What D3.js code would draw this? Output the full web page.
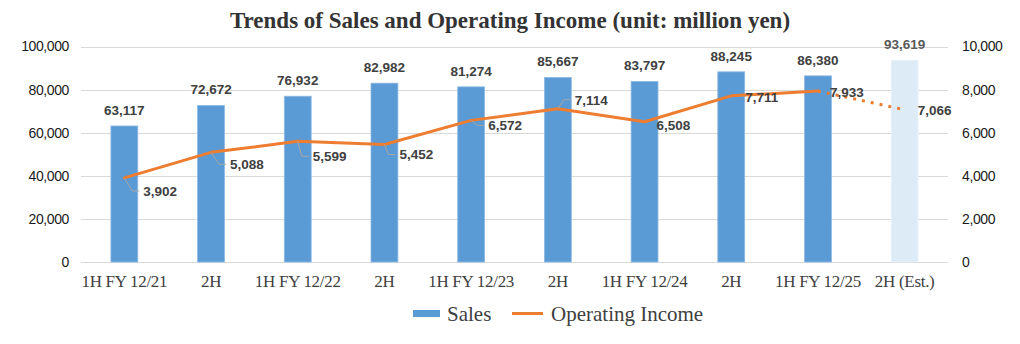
<!DOCTYPE html>
<html>
<head>
<meta charset="utf-8">
<script src="https://cdn.jsdelivr.net/npm/d3@7"></script>
<style>
  html, body { margin: 0; padding: 0; background: #fff; }
  svg { display: block; }
</style>
</head>
<body>
<svg id="chart" width="1020" height="344"></svg>
<script>
// ---- Data ----
const categories = ["1H FY 12/21", "2H", "1H FY 12/22", "2H", "1H FY 12/23", "2H", "1H FY 12/24", "2H", "1H FY 12/25", "2H (Est.)"];
const sales = [63117, 72672, 76932, 82982, 81274, 85667, 83797, 88245, 86380, 93619];
const operatingIncome = [3902, 5088, 5599, 5452, 6572, 7114, 6508, 7711, 7933, 7066];
const estimated = [false, false, false, false, false, false, false, false, false, true];
const leftTicks = [0, 20000, 40000, 60000, 80000, 100000];
const rightTicks = [0, 2000, 4000, 6000, 8000, 10000];
const titleText = "Trends of Sales and Operating Income (unit: million yen)";
const seriesNames = ["Sales", "Operating Income"];

// ---- Layout ----
const svg = d3.select("#chart");
const plot = { left: 81, right: 948, top: 46.5, bottom: 262 };
const blue = "#5B9BD5", lightBlue = "#DDEBF7", orange = "#ED7D31", grid = "#D9D9D9";
const fmt = d3.format(",");
// income label offsets (label left edge dx, label center dy) relative to point
const incLabelPos = [[19, 13], [19, 12], [15, 15], [15, 10], [17, 5], [17, -9], [12, 3], [14, 1], [12, 1], [13, 0]];
const hasLeader = [true, true, true, true, true, true, false, false, false, false];

const idx = d3.range(categories.length);
const x = d3.scaleBand().domain(idx).range([plot.left, plot.right]).paddingInner(0).paddingOuter(0);
const yL = d3.scaleLinear().domain([0, 100000]).range([plot.bottom, plot.top]);
const yR = d3.scaleLinear().domain([0, 10000]).range([plot.bottom, plot.top]);
const barW = x.bandwidth() * 0.31;
const cx = i => x(i) + x.bandwidth() / 2;

// Title
svg.append("text")
  .attr("x", 510).attr("y", 28)
  .attr("text-anchor", "middle")
  .attr("font-family", "'Liberation Serif', 'Times New Roman', serif")
  .attr("font-weight", "bold").attr("font-size", 23)
  .attr("fill", "#333333")
  .text(titleText);

// Gridlines
svg.append("g").selectAll("line").data(leftTicks).join("line")
  .attr("x1", plot.left).attr("x2", plot.right)
  .attr("y1", d => Math.round(yL(d)) + 0.5).attr("y2", d => Math.round(yL(d)) + 0.5)
  .attr("stroke", grid).attr("stroke-width", 1);

// Left axis
const axL = svg.append("g").attr("transform", `translate(${plot.left},0)`)
  .call(d3.axisLeft(yL).tickValues(leftTicks).tickFormat(fmt).tickSize(0).tickPadding(12));
axL.select(".domain").remove();
axL.selectAll("text").attr("font-family", "'Liberation Sans', Arial, sans-serif")
  .attr("font-size", 14).attr("fill", "#1a1a1a").attr("letter-spacing", "-0.4");

// Right axis
const axR = svg.append("g").attr("transform", `translate(${plot.right},0)`)
  .call(d3.axisRight(yR).tickValues(rightTicks).tickFormat(fmt).tickSize(0).tickPadding(14));
axR.select(".domain").remove();
axR.selectAll("text").attr("font-family", "'Liberation Sans', Arial, sans-serif")
  .attr("font-size", 14).attr("fill", "#1a1a1a").attr("letter-spacing", "-0.4");

// X axis labels
const axX = svg.append("g").attr("transform", `translate(0,${plot.bottom})`)
  .call(d3.axisBottom(x).tickFormat(i => categories[i]).tickSize(0).tickPadding(11));
axX.select(".domain").remove();
axX.selectAll("text").attr("font-family", "'Liberation Serif', 'Times New Roman', serif")
  .attr("font-size", 17).attr("fill", "#404040").attr("dy", "0.8em").attr("letter-spacing", "-0.3");

// Bars
svg.append("g").selectAll("rect").data(idx).join("rect")
  .attr("x", i => cx(i) - barW / 2)
  .attr("width", barW)
  .attr("y", i => yL(sales[i]))
  .attr("height", i => yL(0) - yL(sales[i]))
  .attr("fill", i => estimated[i] ? lightBlue : blue)
  .attr("stroke", i => estimated[i] ? "#EAF2FA" : "#8DB9E3")
  .attr("stroke-width", 0.8);

// Sales labels
svg.append("g").selectAll("text").data(idx).join("text")
  .attr("x", i => cx(i))
  .attr("y", i => yL(sales[i]) - 11)
  .attr("text-anchor", "middle")
  .attr("font-family", "'Liberation Sans', Arial, sans-serif")
  .attr("font-size", 13.5).attr("font-weight", "bold")
  .attr("fill", i => estimated[i] ? "#595959" : "#404040")
  .text(i => fmt(sales[i]));

// Income line (solid for actual, dotted for estimate)
const line = d3.line().x(i => cx(i)).y(i => yR(operatingIncome[i]));
const actualIdx = idx.filter(i => !estimated[i]);
svg.append("path").datum(actualIdx)
  .attr("d", line).attr("fill", "none")
  .attr("stroke", orange).attr("stroke-width", 3).attr("stroke-linejoin", "round").attr("stroke-linecap", "round");
const lastActual = actualIdx[actualIdx.length - 1];
const estIdx = [lastActual].concat(idx.filter(i => estimated[i]));
svg.append("path").datum(estIdx)
  .attr("d", line).attr("fill", "none")
  .attr("stroke", orange).attr("stroke-width", 3).attr("stroke-dasharray", "3,6");

// Income leader lines
svg.append("g").selectAll("polyline").data(idx.filter(i => hasLeader[i])).join("polyline")
  .attr("points", i => {
    const px = cx(i), py = yR(operatingIncome[i]);
    const lx = px + incLabelPos[i][0], ly = py + incLabelPos[i][1];
    return `${px},${py} ${lx - 11},${ly} ${lx - 4},${ly}`;
  })
  .attr("fill", "none").attr("stroke", "#A6A6A6").attr("stroke-width", 1);

// Income labels
svg.append("g").selectAll("text").data(idx).join("text")
  .attr("x", i => cx(i) + incLabelPos[i][0])
  .attr("y", i => yR(operatingIncome[i]) + incLabelPos[i][1])
  .attr("dy", "0.36em")
  .attr("font-family", "'Liberation Sans', Arial, sans-serif")
  .attr("font-size", 13.5).attr("font-weight", "bold")
  .attr("fill", "#404040")
  .text(i => fmt(operatingIncome[i]));

// Legend
const lg = svg.append("g");
lg.append("rect").attr("x", 413).attr("y", 310).attr("width", 27).attr("height", 7).attr("fill", blue);
lg.append("text").attr("x", 447).attr("y", 321)
  .attr("font-family", "'Liberation Serif', 'Times New Roman', serif").attr("font-size", 21).attr("fill", "#404040")
  .text(seriesNames[0]);
lg.append("line").attr("x1", 512).attr("x2", 543).attr("y1", 313.5).attr("y2", 313.5)
  .attr("stroke", orange).attr("stroke-width", 3);
lg.append("text").attr("x", 551).attr("y", 321)
  .attr("font-family", "'Liberation Serif', 'Times New Roman', serif").attr("font-size", 21).attr("fill", "#404040")
  .text(seriesNames[1]);
</script>
</body>
</html>
